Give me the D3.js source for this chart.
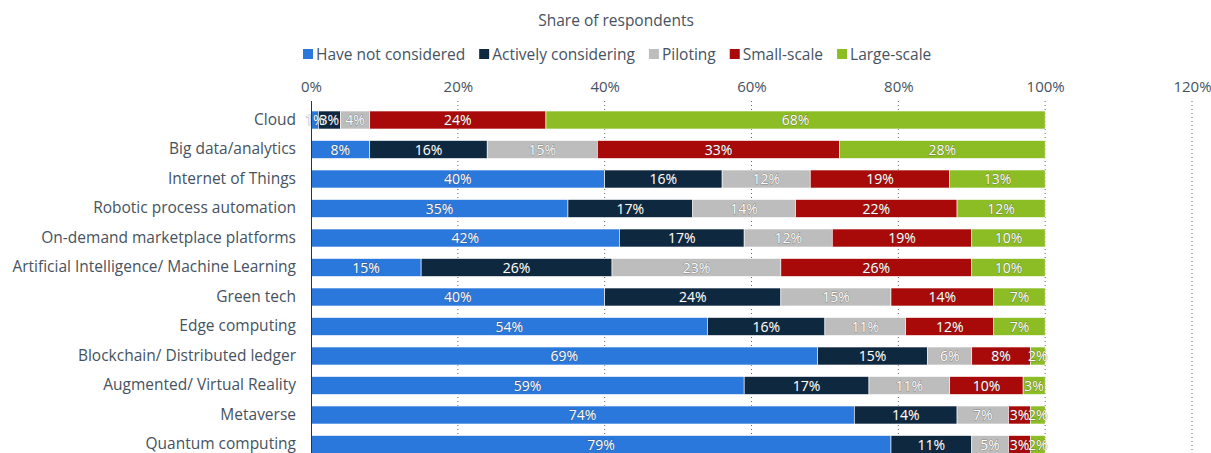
<!DOCTYPE html>
<html><head><meta charset="utf-8">
<script src="https://cdn.jsdelivr.net/npm/d3@7"></script>
<style>
body{margin:0;background:#fff;}
svg{font-family:"Open Sans",sans-serif;}
</style></head>
<body><svg id="c" width="1211" height="453"></svg>
<script>
const categories = ["Cloud","Big data/analytics","Internet of Things","Robotic process automation","On-demand marketplace platforms","Artificial Intelligence/ Machine Learning","Green tech","Edge computing","Blockchain/ Distributed ledger","Augmented/ Virtual Reality","Metaverse","Quantum computing"];
const seriesNames = ["Have not considered","Actively considering","Piloting","Small-scale","Large-scale"];
const haveNotConsidered = [1,8,40,35,42,15,40,54,69,59,74,79];
const activelyConsidering = [3,16,16,17,17,26,24,16,15,17,14,11];
const piloting = [4,15,12,14,12,23,15,11,6,11,7,5];
const smallScale = [24,33,19,22,19,26,14,12,8,10,3,3];
const largeScale = [68,28,13,12,10,10,7,7,2,3,2,2];
const tickValues = [0,20,40,60,80,100,120];
const colors = ["#2a78dc","#0e2840","#bdbdbd","#a80a0a","#8cbd24"];

const seriesValues = [haveNotConsidered,activelyConsidering,piloting,smallScale,largeScale];
const rows = categories.map((c,i)=>{const o={cat:c}; seriesNames.forEach((s,j)=>o[s]=seriesValues[j][i]); return o;});
const stack = d3.stack().keys(seriesNames)(rows);

const svg = d3.select("#c");
const x = d3.scaleLinear().domain([0,120]).range([311,1192]);
const y = d3.scaleBand().domain(categories).range([105.25,459.25]).paddingInner(0.39).paddingOuter(0.195);
const textColor = "#46525f";

// title
svg.append("text").attr("x",616).attr("y",26).attr("text-anchor","middle")
  .attr("font-size",15.5).attr("fill",textColor).text("Share of respondents");

// legend
const lg = svg.append("g");
let lx = 303;
seriesNames.forEach((s,i)=>{
  lg.append("rect").attr("x",lx).attr("y",49).attr("width",10).attr("height",10).attr("fill",colors[i]);
  const t = lg.append("text").attr("x",lx+13).attr("y",59.5).attr("font-size",15.5).attr("fill",textColor).text(s);
  lx += 13 + t.node().getComputedTextLength() + 14;
});

// grid
svg.append("g").selectAll("line").data(tickValues.filter(d=>d>0)).join("line")
  .attr("x1",d=>x(d)).attr("x2",d=>x(d)).attr("y1",101).attr("y2",453)
  .attr("stroke","#666").attr("stroke-width",1).attr("stroke-dasharray","1,3");

// top axis
const xAxis = d3.axisTop(x).tickValues(tickValues).tickFormat(d=>d+"%").tickSize(0).tickPadding(0);
const gx = svg.append("g").attr("transform","translate(0,92)").call(xAxis);
gx.select(".domain").remove();
gx.selectAll("text").attr("font-size",15).attr("fill",textColor).attr("font-family","Open Sans, sans-serif");

// bars
const layers = svg.append("g").selectAll("g").data(stack).join("g").attr("fill",(d,i)=>colors[i]);
layers.selectAll("rect").data(d=>d).join("rect")
  .attr("x",d=>x(d[0])).attr("width",d=>x(d[1])-x(d[0]))
  .attr("y",d=>y(d.data.cat)).attr("height",y.bandwidth())
  .attr("stroke","#fff").attr("stroke-width",0.6);

// labels
const lblG = svg.append("g");
stack.forEach((layer)=>{
  layer.forEach(d=>{
    const v = d[1]-d[0];
    lblG.append("text")
      .attr("x",(x(d[0])+x(d[1]))/2).attr("y",y(d.data.cat)+y.bandwidth()/2+5)
      .attr("text-anchor","middle").attr("font-size",14)
      .attr("fill","#fff").attr("stroke","#444").attr("stroke-width",1)
      .attr("stroke-opacity",0.45).attr("paint-order","stroke")
      .text(v+"%");
  });
});

// y axis
svg.append("line").attr("x1",311.5).attr("x2",311.5).attr("y1",101).attr("y2",453).attr("stroke","#333").attr("stroke-width",1);
const yAxis = d3.axisLeft(y).tickSize(0).tickPadding(15);
const gy = svg.append("g").attr("transform","translate(311,0)").call(yAxis);
gy.select(".domain").remove();
gy.selectAll("text").attr("font-size",15.5).attr("fill",textColor).attr("font-family","Open Sans, sans-serif");
</script></body></html>
